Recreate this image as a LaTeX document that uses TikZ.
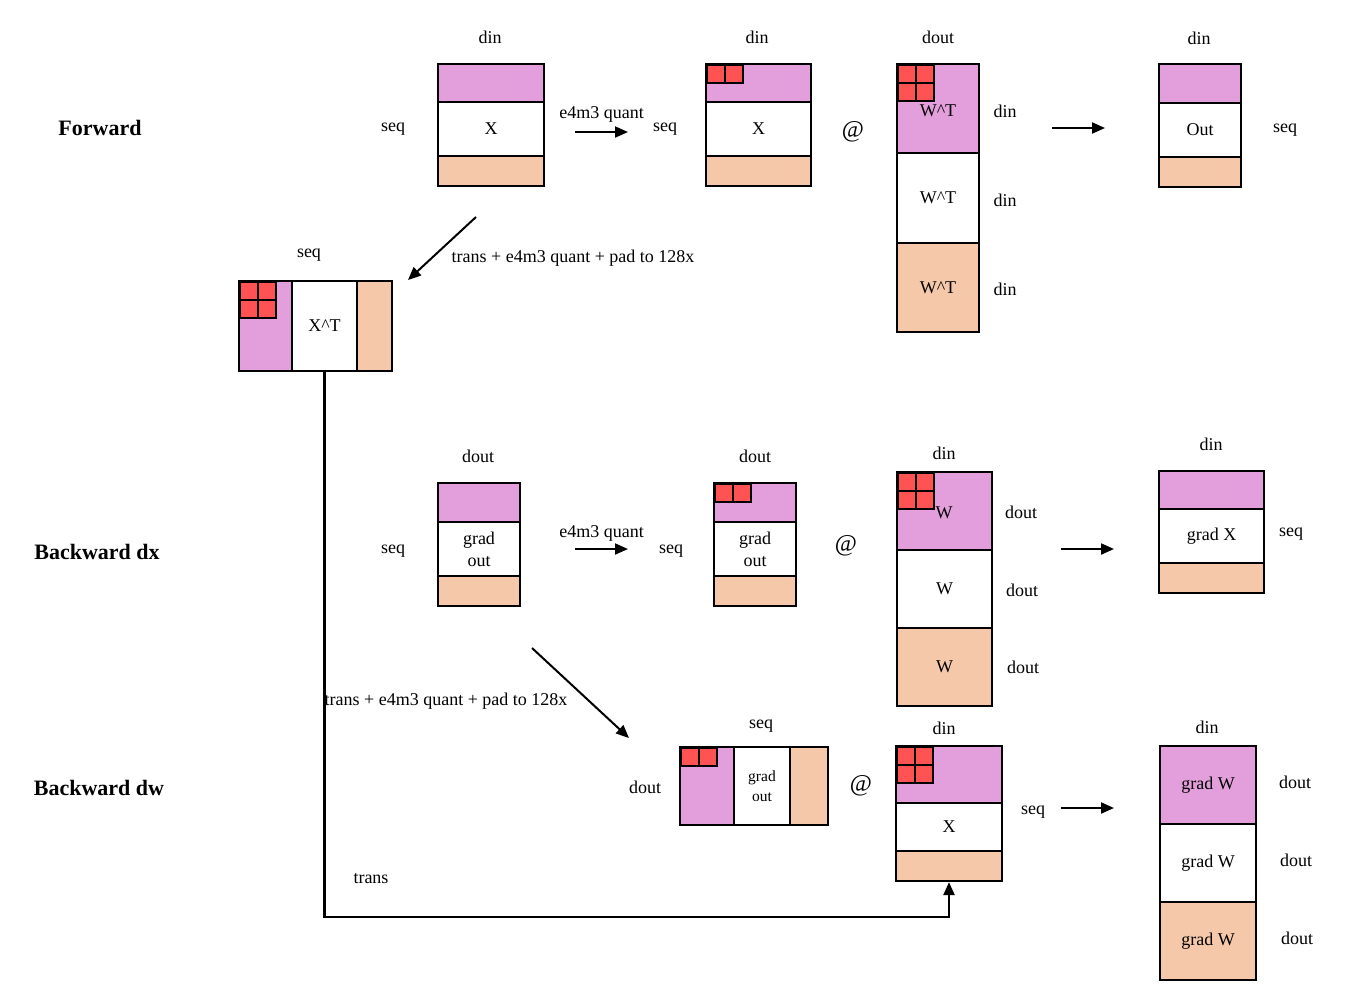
\documentclass[tikz,border=0pt]{standalone}
\usepackage{fontspec}
\setmainfont{Liberation Serif}
\usetikzlibrary{positioning, arrows.meta}
\definecolor{qpink}{RGB}{227,159,219}
\definecolor{qpeach}{RGB}{245,200,170}
\definecolor{qred}{RGB}{255,82,82}

\begin{document}
\begin{tikzpicture}[x=1pt, y=-1pt, font=\fontsize{18}{22}\selectfont,
       >={Triangle[length=13pt, width=11pt]},
       band/.style 2 args={draw, line width=2.2pt, inner sep=0pt, align=center,
                           minimum width=#1pt, minimum height=#2pt},
       pk/.style={fill=qpink}, pc/.style={fill=qpeach}, wt/.style={fill=white},
       qsq/.style={draw, fill=qred, line width=2pt, inner sep=0pt,
                   minimum size=18pt, anchor=north west},
       dim/.style={inner sep=1pt, yshift=-1.5pt},
       stage/.style={font=\fontsize{22}{24}\selectfont\bfseries},
       mm/.style={font=\fontsize{24}{26}\selectfont},
       arr/.style={->, line width=2pt}]
     \useasboundingbox (0,0) rectangle (1350,989);
     % forward
     \node[stage] (fwd) at (100,128) {Forward};
     \node[band={106}{38}, pk] (fx1) at (491,83) {};
     \node[band={106}{54}, wt] (fx2) at (491,129) {X};
     \node[band={106}{30}, pc] (fx3) at (491,171) {};
     \node[dim] (fxd) at (490,36) {din};
     \node[dim] (fxs) at (393,128) {seq};
     \coordinate (fa1) at (575,132);
     \coordinate (fa2) at (628,132);
     \draw[arr] (fa1) -- (fa2) node[midway, above=9pt, dim] (fal) {e4m3 quant};
     \node[dim] (fqs) at (665,128) {seq};
     \node[band={105}{38}, pk] (fq1) at (758.5,83) {};
     \node[band={105}{54}, wt] (fq2) at (758.5,129) {X};
     \node[band={105}{30}, pc] (fq3) at (758.5,171) {};
     \foreach \i in {0,1} \node[qsq] (fqr\i) at (706+18*\i,64) {};
     \node[dim] (fqd) at (757,36) {din};
     \node[mm] (fat) at (853,132) {@};
     \node[band={82}{89}, pk] (fw1) at (938,108.5) {};
     \node[band={82}{90}, wt] (fw2) at (938,198) {W\textasciicircum T};
     \node[band={82}{89}, pc] (fw3) at (938,287.5) {W\textasciicircum T};
     \foreach \i in {0,1} \foreach \j in {0,1} \node[qsq] (fwr\i\j) at (897+18*\i,64+18*\j) {};
     \node[dim] (fwt) at (938,109) {W\textasciicircum T};
     \node[dim] (fwd) at (938,36) {dout};
     \node[dim] (fwr1) at (1005,110) {din};
     \node[dim] (fwr2) at (1005,199) {din};
     \node[dim] (fwr3) at (1005,288) {din};
     \coordinate (fb1) at (1052,128);
     \coordinate (fb2) at (1105,128);
     \draw[arr] (fb1) -- (fb2);
     \node[band={82}{39}, pk] (fo1) at (1200,83.5) {};
     \node[band={82}{54}, wt] (fo2) at (1200,130) {Out};
     \node[band={82}{30}, pc] (fo3) at (1200,172) {};
     \node[dim] (fod) at (1199,37) {din};
     \node[dim] (fos) at (1285,129) {seq};
     % transposed x
     \coordinate (ta1) at (476,217);
     \coordinate (ta2) at (408,280);
     \draw[arr] (ta1) -- (ta2);
     \node[dim] (tal) at (573,257) {trans + e4m3 quant + pad to 128x};
     \node[band={53}{90}, pk] (xt1) at (265.5,326) {};
     \node[band={65}{90}, wt] (xt2) at (324.5,326) {X\textasciicircum T};
     \node[band={35}{90}, pc] (xt3) at (374.5,326) {};
     \foreach \i in {0,1} \foreach \j in {0,1} \node[qsq] (xtr\i\j) at (239+18*\i,281+18*\j) {};
     \node[dim] (xts) at (309,254) {seq};
     % backward dx
     \node[stage] (bdx) at (97,552) {Backward dx};
     \node[band={82}{39}, pk] (dg1) at (479,502.5) {};
     \node[band={82}{54}, wt] (dg2) at (479,549) {grad\\out};
     \node[band={82}{30}, pc] (dg3) at (479,591) {};
     \node[dim] (dgd) at (478,455) {dout};
     \node[dim] (dgs) at (393,550) {seq};
     \coordinate (da1) at (575,549);
     \coordinate (da2) at (628,549);
     \draw[arr] (da1) -- (da2) node[midway, above=7pt, dim] (dal) {e4m3 quant};
     \node[dim] (dqs) at (671,550) {seq};
     \node[band={82}{39}, pk] (dq1) at (755,502.5) {};
     \node[band={82}{54}, wt] (dq2) at (755,549) {grad\\out};
     \node[band={82}{30}, pc] (dq3) at (755,591) {};
     \foreach \i in {0,1} \node[qsq] (dqr\i) at (714+18*\i,483) {};
     \node[dim] (dqd) at (755,455) {dout};
     \node[mm] (dat) at (846,546) {@};
     \node[band={95}{78}, pk] (dw1) at (944.5,511) {};
     \node[band={95}{78}, wt] (dw2) at (944.5,589) {W};
     \node[band={95}{78}, pc] (dw3) at (944.5,667) {W};
     \foreach \i in {0,1} \foreach \j in {0,1} \node[qsq] (dwr\i\j) at (897+18*\i,472+18*\j) {};
     \node[dim] (dwt) at (944,511) {W};
     \node[dim] (dwd) at (944,452) {din};
     \node[dim] (dwr1) at (1021,511) {dout};
     \node[dim] (dwr2) at (1022,589) {dout};
     \node[dim] (dwr3) at (1023,666) {dout};
     \coordinate (db1) at (1061,549);
     \coordinate (db2) at (1114,549);
     \draw[arr] (db1) -- (db2);
     \node[band={105}{38}, pk] (dx1) at (1211.5,490) {};
     \node[band={105}{54}, wt] (dx2) at (1211.5,536) {grad X};
     \node[band={105}{30}, pc] (dx3) at (1211.5,578) {};
     \node[dim] (dxd) at (1211,443) {din};
     \node[dim] (dxs) at (1291,533) {seq};
     % backward dw
     \node[stage] (bdw) at (99,788) {Backward dw};
     \coordinate (ga1) at (532,648);
     \coordinate (ga2) at (629,738);
     \draw[arr] (ga1) -- (ga2);
     \node[dim] (gal) at (446,700) {trans + e4m3 quant + pad to 128x};
     \node[band={54}{78}, pk] (wg1) at (707,786) {};
     \node[band={56}{78}, wt, font=\fontsize{15.5}{20}\selectfont] (wg2) at (762,786) {grad\\out};
     \node[band={38}{78}, pc] (wg3) at (809,786) {};
     \foreach \i in {0,1} \node[qsq] (wgr\i) at (680+18*\i,747) {};
     \node[dim] (wgs) at (761,725) {seq};
     \node[dim] (wgd) at (645,786) {dout};
     \node[mm] (wat) at (861,786) {@};
     \node[band={106}{57}, pk] (wx1) at (949,774.5) {};
     \node[band={106}{48}, wt] (wx2) at (949,827) {X};
     \node[band={106}{30}, pc] (wx3) at (949,866) {};
     \foreach \i in {0,1} \foreach \j in {0,1} \node[qsq] (wxr\i\j) at (896+18*\i,746+18*\j) {};
     \node[dim] (wxd) at (944,727) {din};
     \node[dim] (wxs) at (1033,811) {seq};
     \coordinate (wb1) at (1061,808);
     \coordinate (wb2) at (1114,808);
     \draw[arr] (wb1) -- (wb2);
     \node[band={96}{78}, pk] (ww1) at (1208,785) {grad W};
     \node[band={96}{78}, wt] (ww2) at (1208,863) {grad W};
     \node[band={96}{78}, pc] (ww3) at (1208,941) {grad W};
     \node[dim] (wwd) at (1207,726) {din};
     \node[dim] (wwr1) at (1295,781) {dout};
     \node[dim] (wwr2) at (1296,859) {dout};
     \node[dim] (wwr3) at (1297,937) {dout};
     % x^T feeds the dw matmul
     \draw[->, line width=2.2pt] (xt2.south) |- (wx3.south |- 0,917) -- (wx3.south);
     \node[dim] (trl) at (371,877) {trans};
   \end{tikzpicture}
\end{document}
